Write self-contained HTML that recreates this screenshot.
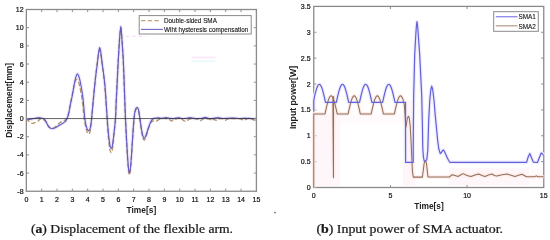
<!DOCTYPE html>
<html><head><meta charset="utf-8">
<style>
html,body{margin:0;padding:0;background:#fff;}
body{width:550px;height:240px;overflow:hidden;position:relative;}
svg{position:absolute;left:0;top:0;will-change:transform;}
.tk{font-family:"Liberation Sans",sans-serif;font-size:7px;fill:#111;stroke:#111;stroke-width:0.2px;}
.lab{font-family:"Liberation Sans",sans-serif;font-size:8.4px;font-weight:bold;fill:#222;}
.leg{font-family:"Liberation Sans",sans-serif;font-size:6.35px;fill:#111;stroke:#111;stroke-width:0.1px;}
.cap{font-family:"Liberation Serif",serif;font-size:11.5px;fill:#1a1a1a;stroke:#1a1a1a;stroke-width:0.22px;}
</style></head><body>
<svg width="550" height="240" viewBox="0 0 550 240">
<rect width="550" height="240" fill="#fff"/>
<!-- faint artifacts -->
<path d="M125.5,36.3 H146" stroke="#f8d8f3" stroke-width="1" stroke-dasharray="4 2.5"/>
<rect x="191.5" y="56.6" width="24" height="1.8" fill="#fce8f8"/>
<rect x="191.5" y="60.4" width="24" height="1.8" fill="#eafafc"/>
<circle cx="275" cy="212.6" r="0.8" fill="#555"/>

<!-- LEFT CHART -->
<g>
<path d="M26.35,118.60 C26.71,118.73 27.73,119.32 28.50,119.40 C29.27,119.48 29.92,119.28 31.00,119.10 C32.08,118.92 33.50,118.53 35.00,118.30 C36.50,118.07 38.50,117.60 40.00,117.70 C41.50,117.80 43.00,118.25 44.00,118.90 C45.00,119.55 45.33,120.48 46.00,121.60 C46.67,122.72 47.33,124.55 48.00,125.60 C48.67,126.65 49.33,127.38 50.00,127.90 C50.67,128.42 51.33,128.63 52.00,128.70 C52.67,128.77 53.33,128.53 54.00,128.30 C54.67,128.07 55.33,127.67 56.00,127.30 C56.67,126.93 57.33,126.48 58.00,126.10 C58.67,125.72 59.33,125.38 60.00,125.00 C60.67,124.62 61.33,124.23 62.00,123.80 C62.67,123.37 63.37,122.90 64.00,122.40 C64.63,121.90 65.27,121.48 65.80,120.80 C66.33,120.12 66.73,119.43 67.20,118.30 C67.67,117.17 68.07,116.30 68.60,114.00 C69.13,111.70 69.77,107.67 70.40,104.50 C71.03,101.33 71.68,98.75 72.40,95.00 C73.12,91.25 74.07,85.17 74.70,82.00 C75.33,78.83 75.75,77.37 76.20,76.00 C76.65,74.63 76.98,73.80 77.40,73.80 C77.82,73.80 78.22,74.63 78.70,76.00 C79.18,77.37 79.63,78.67 80.30,82.00 C80.97,85.33 82.12,91.83 82.70,96.00 C83.28,100.17 83.45,103.25 83.80,107.00 C84.15,110.75 84.38,115.25 84.80,118.50 C85.22,121.75 85.83,124.62 86.30,126.50 C86.77,128.38 87.20,129.12 87.60,129.80 C88.00,130.48 88.33,130.65 88.70,130.60 C89.07,130.55 89.45,130.43 89.80,129.50 C90.15,128.57 90.50,126.83 90.80,125.00 C91.10,123.17 91.17,122.83 91.60,118.50 C92.03,114.17 92.78,105.42 93.40,99.00 C94.02,92.58 94.62,86.17 95.30,80.00 C95.98,73.83 96.92,66.75 97.50,62.00 C98.08,57.25 98.43,53.90 98.80,51.50 C99.17,49.10 99.38,47.60 99.70,47.60 C100.02,47.60 100.32,49.10 100.70,51.50 C101.08,53.90 101.35,56.92 102.00,62.00 C102.65,67.08 103.93,75.67 104.60,82.00 C105.27,88.33 105.57,93.92 106.00,100.00 C106.43,106.08 106.78,112.83 107.20,118.50 C107.62,124.17 108.05,129.58 108.50,134.00 C108.95,138.42 109.45,142.58 109.90,145.00 C110.35,147.42 110.77,148.50 111.20,148.50 C111.63,148.50 112.05,147.42 112.50,145.00 C112.95,142.58 113.40,138.42 113.90,134.00 C114.40,129.58 115.10,124.17 115.50,118.50 C115.90,112.83 116.00,106.42 116.30,100.00 C116.60,93.58 116.97,86.67 117.30,80.00 C117.63,73.33 117.93,66.67 118.30,60.00 C118.67,53.33 119.17,44.92 119.50,40.00 C119.83,35.08 120.08,32.75 120.30,30.50 C120.52,28.25 120.63,26.50 120.80,26.50 C120.97,26.50 121.10,28.25 121.30,30.50 C121.50,32.75 121.67,35.08 122.00,40.00 C122.33,44.92 122.95,53.33 123.30,60.00 C123.65,66.67 123.85,73.33 124.10,80.00 C124.35,86.67 124.57,93.58 124.80,100.00 C125.03,106.42 125.20,111.83 125.50,118.50 C125.80,125.17 126.22,133.08 126.60,140.00 C126.98,146.92 127.45,155.00 127.80,160.00 C128.15,165.00 128.43,167.83 128.70,170.00 C128.97,172.17 129.15,173.00 129.40,173.00 C129.65,173.00 129.88,172.50 130.20,170.00 C130.52,167.50 130.90,163.33 131.30,158.00 C131.70,152.67 132.15,144.58 132.60,138.00 C133.05,131.42 133.57,123.08 134.00,118.50 C134.43,113.92 134.82,112.25 135.20,110.50 C135.58,108.75 135.95,108.50 136.30,108.00 C136.65,107.50 136.97,107.33 137.30,107.50 C137.63,107.67 138.00,108.08 138.30,109.00 C138.60,109.92 138.83,111.42 139.10,113.00 C139.37,114.58 139.58,116.33 139.90,118.50 C140.22,120.67 140.62,123.58 141.00,126.00 C141.38,128.42 141.83,131.20 142.20,133.00 C142.57,134.80 142.87,135.95 143.20,136.80 C143.53,137.65 143.85,138.07 144.20,138.10 C144.55,138.13 144.90,137.77 145.30,137.00 C145.70,136.23 146.15,134.83 146.60,133.50 C147.05,132.17 147.50,130.50 148.00,129.00 C148.50,127.50 149.07,125.83 149.60,124.50 C150.13,123.17 150.68,121.92 151.20,121.00 C151.72,120.08 152.15,119.45 152.70,119.00 C153.25,118.55 153.62,118.50 154.50,118.30 C155.38,118.10 156.75,117.78 158.00,117.80 C159.25,117.82 160.67,118.43 162.00,118.40 C163.33,118.37 164.67,117.62 166.00,117.60 C167.33,117.58 168.67,118.13 170.00,118.30 C171.33,118.47 172.67,118.70 174.00,118.60 C175.33,118.50 176.67,117.72 178.00,117.70 C179.33,117.68 180.67,118.40 182.00,118.50 C183.33,118.60 184.67,118.45 186.00,118.30 C187.33,118.15 188.67,117.58 190.00,117.60 C191.33,117.62 192.67,118.23 194.00,118.40 C195.33,118.57 196.67,118.62 198.00,118.60 C199.33,118.58 200.78,118.50 202.00,118.30 C203.22,118.10 204.13,117.37 205.30,117.40 C206.47,117.43 207.72,118.33 209.00,118.50 C210.28,118.67 211.50,118.57 213.00,118.40 C214.50,118.23 216.50,117.48 218.00,117.50 C219.50,117.52 220.33,118.37 222.00,118.50 C223.67,118.63 226.00,118.38 228.00,118.30 C230.00,118.22 232.00,117.97 234.00,118.00 C236.00,118.03 238.00,118.47 240.00,118.50 C242.00,118.53 244.00,118.18 246.00,118.20 C248.00,118.22 250.27,118.57 252.00,118.60 C253.73,118.63 255.67,118.43 256.40,118.40" stroke="#eeebf9" stroke-width="3.6" fill="none"/>
<path d="M26.35,118.60 C26.71,119.00 27.64,120.20 28.50,121.00 C29.36,121.80 30.42,123.13 31.50,123.40 C32.58,123.67 33.92,122.97 35.00,122.60 C36.08,122.23 37.08,121.83 38.00,121.20 C38.92,120.57 39.67,119.13 40.50,118.80 C41.33,118.47 42.08,118.70 43.00,119.20 C43.92,119.70 45.17,120.73 46.00,121.80 C46.83,122.87 47.33,124.60 48.00,125.60 C48.67,126.60 49.33,127.32 50.00,127.80 C50.67,128.28 51.33,128.50 52.00,128.50 C52.67,128.50 53.33,128.18 54.00,127.80 C54.67,127.42 55.33,126.77 56.00,126.20 C56.67,125.63 57.33,125.00 58.00,124.40 C58.67,123.80 59.33,123.10 60.00,122.60 C60.67,122.10 61.33,121.73 62.00,121.40 C62.67,121.07 63.37,120.90 64.00,120.60 C64.63,120.30 65.27,120.12 65.80,119.60 C66.33,119.08 66.73,118.60 67.20,117.50 C67.67,116.40 68.07,115.25 68.60,113.00 C69.13,110.75 69.77,107.17 70.40,104.00 C71.03,100.83 71.75,97.25 72.40,94.00 C73.05,90.75 73.77,86.75 74.30,84.50 C74.83,82.25 75.22,81.35 75.60,80.50 C75.98,79.65 76.27,79.45 76.60,79.40 C76.93,79.35 77.15,79.35 77.60,80.20 C78.05,81.05 78.60,81.70 79.30,84.50 C80.00,87.30 81.17,93.08 81.80,97.00 C82.43,100.92 82.68,104.37 83.10,108.00 C83.52,111.63 83.83,115.47 84.30,118.80 C84.77,122.13 85.38,125.67 85.90,128.00 C86.42,130.33 86.95,131.80 87.40,132.80 C87.85,133.80 88.20,134.05 88.60,134.00 C89.00,133.95 89.43,133.67 89.80,132.50 C90.17,131.33 90.50,129.17 90.80,127.00 C91.10,124.83 91.18,124.00 91.60,119.50 C92.02,115.00 92.72,106.42 93.30,100.00 C93.88,93.58 94.45,87.17 95.10,81.00 C95.75,74.83 96.63,67.58 97.20,63.00 C97.77,58.42 98.12,55.63 98.50,53.50 C98.88,51.37 99.15,50.28 99.50,50.20 C99.85,50.12 100.18,50.87 100.60,53.00 C101.02,55.13 101.35,58.00 102.00,63.00 C102.65,68.00 103.85,76.67 104.50,83.00 C105.15,89.33 105.47,94.92 105.90,101.00 C106.33,107.08 106.68,113.50 107.10,119.50 C107.52,125.50 107.95,132.08 108.40,137.00 C108.85,141.92 109.33,146.38 109.80,149.00 C110.27,151.62 110.75,152.70 111.20,152.70 C111.65,152.70 112.07,151.78 112.50,149.00 C112.93,146.22 113.32,140.92 113.80,136.00 C114.28,131.08 115.00,125.33 115.40,119.50 C115.80,113.67 115.90,107.42 116.20,101.00 C116.50,94.58 116.87,87.67 117.20,81.00 C117.53,74.33 117.83,67.67 118.20,61.00 C118.57,54.33 119.07,45.92 119.40,41.00 C119.73,36.08 119.97,33.70 120.20,31.50 C120.43,29.30 120.62,27.80 120.80,27.80 C120.98,27.80 121.10,29.30 121.30,31.50 C121.50,33.70 121.68,36.08 122.00,41.00 C122.32,45.92 122.87,54.33 123.20,61.00 C123.53,67.67 123.75,74.33 124.00,81.00 C124.25,87.67 124.47,94.58 124.70,101.00 C124.93,107.42 125.10,112.83 125.40,119.50 C125.70,126.17 126.12,134.08 126.50,141.00 C126.88,147.92 127.33,155.92 127.70,161.00 C128.07,166.08 128.42,169.20 128.70,171.50 C128.98,173.80 129.15,174.80 129.40,174.80 C129.65,174.80 129.88,174.13 130.20,171.50 C130.52,168.87 130.90,164.42 131.30,159.00 C131.70,153.58 132.15,145.58 132.60,139.00 C133.05,132.42 133.57,124.08 134.00,119.50 C134.43,114.92 134.82,113.20 135.20,111.50 C135.58,109.80 135.95,109.72 136.30,109.30 C136.65,108.88 136.97,108.80 137.30,109.00 C137.63,109.20 138.00,109.67 138.30,110.50 C138.60,111.33 138.83,112.50 139.10,114.00 C139.37,115.50 139.58,117.17 139.90,119.50 C140.22,121.83 140.62,125.42 141.00,128.00 C141.38,130.58 141.83,133.20 142.20,135.00 C142.57,136.80 142.87,137.97 143.20,138.80 C143.53,139.63 143.85,140.00 144.20,140.00 C144.55,140.00 144.90,139.63 145.30,138.80 C145.70,137.97 146.15,136.47 146.60,135.00 C147.05,133.53 147.50,131.58 148.00,130.00 C148.50,128.42 149.07,126.83 149.60,125.50 C150.13,124.17 150.63,122.75 151.20,122.00 C151.77,121.25 152.17,121.13 153.00,121.00 C153.83,120.87 155.20,121.45 156.20,121.20 C157.20,120.95 158.20,119.93 159.00,119.50 C159.80,119.07 160.00,118.78 161.00,118.60 C162.00,118.42 163.67,118.25 165.00,118.40 C166.33,118.55 167.85,119.07 169.00,119.50 C170.15,119.93 170.98,121.00 171.90,121.00 C172.82,121.00 173.65,119.92 174.50,119.50 C175.35,119.08 175.92,118.65 177.00,118.50 C178.08,118.35 179.77,118.18 181.00,118.60 C182.23,119.02 183.40,120.60 184.40,121.00 C185.40,121.40 186.15,121.33 187.00,121.00 C187.85,120.67 188.50,119.43 189.50,119.00 C190.50,118.57 191.75,118.40 193.00,118.40 C194.25,118.40 195.75,118.63 197.00,119.00 C198.25,119.37 199.50,120.60 200.50,120.60 C201.50,120.60 202.08,119.35 203.00,119.00 C203.92,118.65 205.00,118.50 206.00,118.50 C207.00,118.50 208.00,118.70 209.00,119.00 C210.00,119.30 211.17,120.27 212.00,120.30 C212.83,120.33 213.33,119.20 214.00,119.20 C214.67,119.20 215.17,120.37 216.00,120.30 C216.83,120.23 218.00,119.10 219.00,118.80 C220.00,118.50 220.95,118.25 222.00,118.50 C223.05,118.75 224.30,120.25 225.30,120.30 C226.30,120.35 226.55,119.10 228.00,118.80 C229.45,118.50 232.00,118.48 234.00,118.50 C236.00,118.52 238.33,118.62 240.00,118.90 C241.67,119.18 242.83,120.22 244.00,120.20 C245.17,120.18 245.83,119.08 247.00,118.80 C248.17,118.52 249.83,118.30 251.00,118.50 C252.17,118.70 253.10,119.75 254.00,120.00 C254.90,120.25 256.00,120.00 256.40,120.00" stroke="#b39068" stroke-width="1.3" fill="none" stroke-dasharray="4.5 2.3"/>
<path d="M26.35,118.60 C26.71,118.73 27.73,119.32 28.50,119.40 C29.27,119.48 29.92,119.28 31.00,119.10 C32.08,118.92 33.50,118.53 35.00,118.30 C36.50,118.07 38.50,117.60 40.00,117.70 C41.50,117.80 43.00,118.25 44.00,118.90 C45.00,119.55 45.33,120.48 46.00,121.60 C46.67,122.72 47.33,124.55 48.00,125.60 C48.67,126.65 49.33,127.38 50.00,127.90 C50.67,128.42 51.33,128.63 52.00,128.70 C52.67,128.77 53.33,128.53 54.00,128.30 C54.67,128.07 55.33,127.67 56.00,127.30 C56.67,126.93 57.33,126.48 58.00,126.10 C58.67,125.72 59.33,125.38 60.00,125.00 C60.67,124.62 61.33,124.23 62.00,123.80 C62.67,123.37 63.37,122.90 64.00,122.40 C64.63,121.90 65.27,121.48 65.80,120.80 C66.33,120.12 66.73,119.43 67.20,118.30 C67.67,117.17 68.07,116.30 68.60,114.00 C69.13,111.70 69.77,107.67 70.40,104.50 C71.03,101.33 71.68,98.75 72.40,95.00 C73.12,91.25 74.07,85.17 74.70,82.00 C75.33,78.83 75.75,77.37 76.20,76.00 C76.65,74.63 76.98,73.80 77.40,73.80 C77.82,73.80 78.22,74.63 78.70,76.00 C79.18,77.37 79.63,78.67 80.30,82.00 C80.97,85.33 82.12,91.83 82.70,96.00 C83.28,100.17 83.45,103.25 83.80,107.00 C84.15,110.75 84.38,115.25 84.80,118.50 C85.22,121.75 85.83,124.62 86.30,126.50 C86.77,128.38 87.20,129.12 87.60,129.80 C88.00,130.48 88.33,130.65 88.70,130.60 C89.07,130.55 89.45,130.43 89.80,129.50 C90.15,128.57 90.50,126.83 90.80,125.00 C91.10,123.17 91.17,122.83 91.60,118.50 C92.03,114.17 92.78,105.42 93.40,99.00 C94.02,92.58 94.62,86.17 95.30,80.00 C95.98,73.83 96.92,66.75 97.50,62.00 C98.08,57.25 98.43,53.90 98.80,51.50 C99.17,49.10 99.38,47.60 99.70,47.60 C100.02,47.60 100.32,49.10 100.70,51.50 C101.08,53.90 101.35,56.92 102.00,62.00 C102.65,67.08 103.93,75.67 104.60,82.00 C105.27,88.33 105.57,93.92 106.00,100.00 C106.43,106.08 106.78,112.83 107.20,118.50 C107.62,124.17 108.05,129.58 108.50,134.00 C108.95,138.42 109.45,142.58 109.90,145.00 C110.35,147.42 110.77,148.50 111.20,148.50 C111.63,148.50 112.05,147.42 112.50,145.00 C112.95,142.58 113.40,138.42 113.90,134.00 C114.40,129.58 115.10,124.17 115.50,118.50 C115.90,112.83 116.00,106.42 116.30,100.00 C116.60,93.58 116.97,86.67 117.30,80.00 C117.63,73.33 117.93,66.67 118.30,60.00 C118.67,53.33 119.17,44.92 119.50,40.00 C119.83,35.08 120.08,32.75 120.30,30.50 C120.52,28.25 120.63,26.50 120.80,26.50 C120.97,26.50 121.10,28.25 121.30,30.50 C121.50,32.75 121.67,35.08 122.00,40.00 C122.33,44.92 122.95,53.33 123.30,60.00 C123.65,66.67 123.85,73.33 124.10,80.00 C124.35,86.67 124.57,93.58 124.80,100.00 C125.03,106.42 125.20,111.83 125.50,118.50 C125.80,125.17 126.22,133.08 126.60,140.00 C126.98,146.92 127.45,155.00 127.80,160.00 C128.15,165.00 128.43,167.83 128.70,170.00 C128.97,172.17 129.15,173.00 129.40,173.00 C129.65,173.00 129.88,172.50 130.20,170.00 C130.52,167.50 130.90,163.33 131.30,158.00 C131.70,152.67 132.15,144.58 132.60,138.00 C133.05,131.42 133.57,123.08 134.00,118.50 C134.43,113.92 134.82,112.25 135.20,110.50 C135.58,108.75 135.95,108.50 136.30,108.00 C136.65,107.50 136.97,107.33 137.30,107.50 C137.63,107.67 138.00,108.08 138.30,109.00 C138.60,109.92 138.83,111.42 139.10,113.00 C139.37,114.58 139.58,116.33 139.90,118.50 C140.22,120.67 140.62,123.58 141.00,126.00 C141.38,128.42 141.83,131.20 142.20,133.00 C142.57,134.80 142.87,135.95 143.20,136.80 C143.53,137.65 143.85,138.07 144.20,138.10 C144.55,138.13 144.90,137.77 145.30,137.00 C145.70,136.23 146.15,134.83 146.60,133.50 C147.05,132.17 147.50,130.50 148.00,129.00 C148.50,127.50 149.07,125.83 149.60,124.50 C150.13,123.17 150.68,121.92 151.20,121.00 C151.72,120.08 152.15,119.45 152.70,119.00 C153.25,118.55 153.62,118.50 154.50,118.30 C155.38,118.10 156.75,117.78 158.00,117.80 C159.25,117.82 160.67,118.43 162.00,118.40 C163.33,118.37 164.67,117.62 166.00,117.60 C167.33,117.58 168.67,118.13 170.00,118.30 C171.33,118.47 172.67,118.70 174.00,118.60 C175.33,118.50 176.67,117.72 178.00,117.70 C179.33,117.68 180.67,118.40 182.00,118.50 C183.33,118.60 184.67,118.45 186.00,118.30 C187.33,118.15 188.67,117.58 190.00,117.60 C191.33,117.62 192.67,118.23 194.00,118.40 C195.33,118.57 196.67,118.62 198.00,118.60 C199.33,118.58 200.78,118.50 202.00,118.30 C203.22,118.10 204.13,117.37 205.30,117.40 C206.47,117.43 207.72,118.33 209.00,118.50 C210.28,118.67 211.50,118.57 213.00,118.40 C214.50,118.23 216.50,117.48 218.00,117.50 C219.50,117.52 220.33,118.37 222.00,118.50 C223.67,118.63 226.00,118.38 228.00,118.30 C230.00,118.22 232.00,117.97 234.00,118.00 C236.00,118.03 238.00,118.47 240.00,118.50 C242.00,118.53 244.00,118.18 246.00,118.20 C248.00,118.22 250.27,118.57 252.00,118.60 C253.73,118.63 255.67,118.43 256.40,118.40" stroke="#6459c6" stroke-width="1.15" fill="none"/>
<path d="M26.35,118.55 H256.4" stroke="#333" stroke-width="0.9" fill="none" opacity="0.85"/>
<rect x="26.35" y="9.5" width="230.05" height="181.75" fill="none" stroke="#8a8a8a" stroke-width="1.3"/>
<path d="M26.95,27.68 h2 M255.80,27.68 h-2 M26.95,45.85 h2 M255.80,45.85 h-2 M26.95,64.03 h2 M255.80,64.03 h-2 M26.95,82.20 h2 M255.80,82.20 h-2 M26.95,100.38 h2 M255.80,100.38 h-2 M26.95,118.55 h2 M255.80,118.55 h-2 M26.95,136.72 h2 M255.80,136.72 h-2 M26.95,154.90 h2 M255.80,154.90 h-2 M26.95,173.07 h2 M255.80,173.07 h-2 M41.69,190.65 v-2 M41.69,10.10 v2 M57.02,190.65 v-2 M57.02,10.10 v2 M72.36,190.65 v-2 M72.36,10.10 v2 M87.70,190.65 v-2 M87.70,10.10 v2 M103.03,190.65 v-2 M103.03,10.10 v2 M118.37,190.65 v-2 M118.37,10.10 v2 M133.71,190.65 v-2 M133.71,10.10 v2 M149.04,190.65 v-2 M149.04,10.10 v2 M164.38,190.65 v-2 M164.38,10.10 v2 M179.72,190.65 v-2 M179.72,10.10 v2 M195.05,190.65 v-2 M195.05,10.10 v2 M210.39,190.65 v-2 M210.39,10.10 v2 M225.73,190.65 v-2 M225.73,10.10 v2 M241.06,190.65 v-2 M241.06,10.10 v2" stroke="#8a8a8a" stroke-width="1" fill="none"/>
<text x="23.6" y="12.00" text-anchor="end" class="tk">12</text>
<text x="23.6" y="30.18" text-anchor="end" class="tk">10</text>
<text x="23.6" y="48.35" text-anchor="end" class="tk">8</text>
<text x="23.6" y="66.53" text-anchor="end" class="tk">6</text>
<text x="23.6" y="84.70" text-anchor="end" class="tk">4</text>
<text x="23.6" y="102.88" text-anchor="end" class="tk">2</text>
<text x="23.6" y="121.05" text-anchor="end" class="tk">0</text>
<text x="23.6" y="139.22" text-anchor="end" class="tk">-2</text>
<text x="23.6" y="157.40" text-anchor="end" class="tk">-4</text>
<text x="23.6" y="175.57" text-anchor="end" class="tk">-6</text>
<text x="23.6" y="193.75" text-anchor="end" class="tk">-8</text>
<text x="26.35" y="201.5" text-anchor="middle" class="tk">0</text>
<text x="41.69" y="201.5" text-anchor="middle" class="tk">1</text>
<text x="57.02" y="201.5" text-anchor="middle" class="tk">2</text>
<text x="72.36" y="201.5" text-anchor="middle" class="tk">3</text>
<text x="87.70" y="201.5" text-anchor="middle" class="tk">4</text>
<text x="103.03" y="201.5" text-anchor="middle" class="tk">5</text>
<text x="118.37" y="201.5" text-anchor="middle" class="tk">6</text>
<text x="133.71" y="201.5" text-anchor="middle" class="tk">7</text>
<text x="149.04" y="201.5" text-anchor="middle" class="tk">8</text>
<text x="164.38" y="201.5" text-anchor="middle" class="tk">9</text>
<text x="179.72" y="201.5" text-anchor="middle" class="tk">10</text>
<text x="195.05" y="201.5" text-anchor="middle" class="tk">11</text>
<text x="210.39" y="201.5" text-anchor="middle" class="tk">12</text>
<text x="225.73" y="201.5" text-anchor="middle" class="tk">13</text>
<text x="241.06" y="201.5" text-anchor="middle" class="tk">14</text>
<text x="256.40" y="201.5" text-anchor="middle" class="tk">15</text>
<text class="lab" x="141.4" y="212.8" text-anchor="middle">Time[s]</text>
<text class="lab" transform="translate(11.7,100.4) rotate(-90)" text-anchor="middle">Displacement[mm]</text>
<!-- legend -->
<rect x="139.2" y="15.6" width="112" height="18.4" fill="#fff" stroke="#8a8a8a" stroke-width="1"/>
<path d="M141,20.6 H159.5" stroke="#c0a57a" stroke-width="1.1" stroke-dasharray="4.4 2.3"/>
<path d="M141,29.4 H163" stroke="#6e68d0" stroke-width="1.1"/>
<text class="leg" x="164" y="23.4">Double-sided SMA</text>
<text class="leg" x="164" y="32.2">Wiht hysteresis compensation</text>
</g>

<!-- RIGHT CHART -->
<g>
<!-- faint chroma haze around red lines (jpeg-like) -->
<rect x="314.5" y="114.5" width="26" height="72" fill="#fef6f8"/>
<rect x="340" y="114.5" width="64" height="9" fill="#fffafb"/>
<rect x="403" y="100" width="12" height="86" fill="#fef6f8"/>
<rect x="449" y="168" width="80" height="17" fill="#fef6f8"/>
<rect x="529" y="168" width="14" height="17" fill="#fffafb"/>
<rect x="313.75" y="6.4" width="230.00" height="181.10" fill="none" stroke="#8a8a8a" stroke-width="1.3"/>
<path d="M314.35,161.63 h2 M543.15,161.63 h-2 M314.35,135.76 h2 M543.15,135.76 h-2 M314.35,109.89 h2 M543.15,109.89 h-2 M314.35,84.01 h2 M543.15,84.01 h-2 M314.35,58.14 h2 M543.15,58.14 h-2 M314.35,32.27 h2 M543.15,32.27 h-2 M390.42,186.90 v-2 M390.42,7.00 v2 M467.08,186.90 v-2 M467.08,7.00 v2" stroke="#8a8a8a" stroke-width="1" fill="none"/>
<path d="M313.75,187.60 L313.75,113.90 L325.00,113.90 L325.87,109.87 L326.74,106.05 L327.61,102.61 L328.49,99.75 L329.36,97.59 L330.23,96.25 L331.10,95.80 L331.97,96.25 L332.84,97.59 L333.45,177.60 L333.55,96.60 L333.71,99.75 L334.59,102.61 L335.46,106.05 L336.33,109.87 L337.20,113.90 L348.10,113.90 L348.97,109.87 L349.84,106.05 L350.71,102.61 L351.59,99.75 L352.46,97.59 L353.33,96.25 L354.20,95.80 L355.07,96.25 L355.94,97.59 L356.81,99.75 L357.69,102.61 L358.56,106.05 L359.43,109.87 L360.30,113.90 L371.20,113.90 L372.07,109.87 L372.94,106.05 L373.81,102.61 L374.69,99.75 L375.56,97.59 L376.43,96.25 L377.30,95.80 L378.17,96.25 L379.04,97.59 L379.91,99.75 L380.79,102.61 L381.66,106.05 L382.53,109.87 L383.40,113.90 L394.40,113.90 L395.27,109.87 L396.14,106.05 L397.01,102.61 L397.89,99.75 L398.76,97.59 L399.63,96.25 L400.50,95.80 L401.37,96.25 L402.24,97.59 L403.11,99.75 L404.30,105.00 L405.00,114.00 L405.50,123.00 L406.00,127.00 L406.60,123.00 L407.30,118.50 L408.30,116.20 L409.30,118.00 L410.20,126.00 L411.00,140.00 L411.80,158.00 L412.50,172.00 L413.30,177.10 L422.40,177.10 L423.20,171.00 L424.20,163.00 L425.30,160.80 L426.40,163.00 L427.30,171.00 L428.00,177.00 L449.40,177.00 L451.90,174.80 L455.00,175.60 L458.00,176.50 L460.50,175.00 L463.00,173.60 L467.00,175.50 L471.00,176.50 L475.00,175.00 L478.70,174.00 L482.00,175.50 L485.00,176.50 L488.50,175.00 L491.90,174.00 L494.50,175.50 L496.80,176.10 L501.00,175.00 L506.80,174.10 L511.00,175.30 L515.00,176.60 L518.50,175.30 L521.80,174.20 L524.30,175.50 L526.40,176.80 L534.50,176.80 L536.40,175.90 L538.00,176.80 L543.60,176.80" stroke="#fbeceb" stroke-width="3.6" fill="none" stroke-linejoin="round"/>
<path d="M313.75,110.00 L313.75,101.50 L314.22,97.72 L315.25,93.35 L316.27,89.60 L317.30,86.72 L318.32,84.92 L319.35,84.30 L320.38,84.92 L321.40,86.72 L322.43,89.60 L323.45,93.35 L324.48,97.72 L325.50,102.40 L336.30,102.40 L337.19,98.37 L338.07,94.55 L338.96,91.11 L339.84,88.25 L340.73,86.09 L341.61,84.75 L342.50,84.30 L343.39,84.75 L344.27,86.09 L345.16,88.25 L346.04,91.11 L346.93,94.55 L347.81,98.37 L348.70,102.40 L359.50,102.40 L360.39,98.37 L361.27,94.55 L362.16,91.11 L363.04,88.25 L363.93,86.09 L364.81,84.75 L365.70,84.30 L366.59,84.75 L367.47,86.09 L368.36,88.25 L369.24,91.11 L370.13,94.55 L371.01,98.37 L371.90,102.40 L382.60,102.40 L383.49,98.37 L384.37,94.55 L385.26,91.11 L386.14,88.25 L387.03,86.09 L387.91,84.75 L388.80,84.30 L389.69,84.75 L390.57,86.09 L391.46,88.25 L392.34,91.11 L393.23,94.55 L394.11,98.37 L395.00,102.40 L405.50,102.40 L405.60,162.40 L413.20,162.40 L413.20,150.00 L413.30,135.00 L413.70,95.00 L414.70,55.00 L415.80,35.00 L416.40,26.00 L417.00,21.70 L417.60,26.00 L418.30,35.00 L419.70,55.00 L421.70,95.00 L422.40,125.00 L422.80,148.00 L423.40,157.00 L424.20,160.80 L425.00,161.40 L425.80,160.80 L426.80,159.50 L427.80,150.00 L428.70,120.00 L429.80,100.00 L430.80,90.00 L431.70,86.20 L432.60,89.00 L434.00,100.00 L435.20,115.00 L436.20,125.00 L437.60,140.00 L438.80,149.00 L440.30,153.60 L441.40,152.50 L442.50,150.60 L443.50,150.00 L444.60,151.80 L446.00,155.00 L447.60,158.50 L449.00,161.00 L450.00,162.40 L526.60,162.40 L528.00,157.50 L529.80,153.50 L531.40,157.50 L533.40,162.20 L537.60,162.30 L539.40,157.50 L541.20,153.00 L542.30,153.60 L543.60,155.50" stroke="#eeecfb" stroke-width="3.6" fill="none" stroke-linejoin="round"/>
<path d="M313.75,187.60 L313.75,113.90 L325.00,113.90 L325.87,109.87 L326.74,106.05 L327.61,102.61 L328.49,99.75 L329.36,97.59 L330.23,96.25 L331.10,95.80 L331.97,96.25 L332.84,97.59 L333.45,177.60 L333.55,96.60 L333.71,99.75 L334.59,102.61 L335.46,106.05 L336.33,109.87 L337.20,113.90 L348.10,113.90 L348.97,109.87 L349.84,106.05 L350.71,102.61 L351.59,99.75 L352.46,97.59 L353.33,96.25 L354.20,95.80 L355.07,96.25 L355.94,97.59 L356.81,99.75 L357.69,102.61 L358.56,106.05 L359.43,109.87 L360.30,113.90 L371.20,113.90 L372.07,109.87 L372.94,106.05 L373.81,102.61 L374.69,99.75 L375.56,97.59 L376.43,96.25 L377.30,95.80 L378.17,96.25 L379.04,97.59 L379.91,99.75 L380.79,102.61 L381.66,106.05 L382.53,109.87 L383.40,113.90 L394.40,113.90 L395.27,109.87 L396.14,106.05 L397.01,102.61 L397.89,99.75 L398.76,97.59 L399.63,96.25 L400.50,95.80 L401.37,96.25 L402.24,97.59 L403.11,99.75 L404.30,105.00 L405.00,114.00 L405.50,123.00 L406.00,127.00 L406.60,123.00 L407.30,118.50 L408.30,116.20 L409.30,118.00 L410.20,126.00 L411.00,140.00 L411.80,158.00 L412.50,172.00 L413.30,177.10 L422.40,177.10 L423.20,171.00 L424.20,163.00 L425.30,160.80 L426.40,163.00 L427.30,171.00 L428.00,177.00 L449.40,177.00 L451.90,174.80 L455.00,175.60 L458.00,176.50 L460.50,175.00 L463.00,173.60 L467.00,175.50 L471.00,176.50 L475.00,175.00 L478.70,174.00 L482.00,175.50 L485.00,176.50 L488.50,175.00 L491.90,174.00 L494.50,175.50 L496.80,176.10 L501.00,175.00 L506.80,174.10 L511.00,175.30 L515.00,176.60 L518.50,175.30 L521.80,174.20 L524.30,175.50 L526.40,176.80 L534.50,176.80 L536.40,175.90 L538.00,176.80 L543.60,176.80" stroke="#946e55" stroke-width="1.05" fill="none" stroke-linejoin="round"/>
<path d="M313.75,110.00 L313.75,101.50 L314.22,97.72 L315.25,93.35 L316.27,89.60 L317.30,86.72 L318.32,84.92 L319.35,84.30 L320.38,84.92 L321.40,86.72 L322.43,89.60 L323.45,93.35 L324.48,97.72 L325.50,102.40 L336.30,102.40 L337.19,98.37 L338.07,94.55 L338.96,91.11 L339.84,88.25 L340.73,86.09 L341.61,84.75 L342.50,84.30 L343.39,84.75 L344.27,86.09 L345.16,88.25 L346.04,91.11 L346.93,94.55 L347.81,98.37 L348.70,102.40 L359.50,102.40 L360.39,98.37 L361.27,94.55 L362.16,91.11 L363.04,88.25 L363.93,86.09 L364.81,84.75 L365.70,84.30 L366.59,84.75 L367.47,86.09 L368.36,88.25 L369.24,91.11 L370.13,94.55 L371.01,98.37 L371.90,102.40 L382.60,102.40 L383.49,98.37 L384.37,94.55 L385.26,91.11 L386.14,88.25 L387.03,86.09 L387.91,84.75 L388.80,84.30 L389.69,84.75 L390.57,86.09 L391.46,88.25 L392.34,91.11 L393.23,94.55 L394.11,98.37 L395.00,102.40 L405.50,102.40 L405.60,162.40 L413.20,162.40 L413.20,150.00 L413.30,135.00 L413.70,95.00 L414.70,55.00 L415.80,35.00 L416.40,26.00 L417.00,21.70 L417.60,26.00 L418.30,35.00 L419.70,55.00 L421.70,95.00 L422.40,125.00 L422.80,148.00 L423.40,157.00 L424.20,160.80 L425.00,161.40 L425.80,160.80 L426.80,159.50 L427.80,150.00 L428.70,120.00 L429.80,100.00 L430.80,90.00 L431.70,86.20 L432.60,89.00 L434.00,100.00 L435.20,115.00 L436.20,125.00 L437.60,140.00 L438.80,149.00 L440.30,153.60 L441.40,152.50 L442.50,150.60 L443.50,150.00 L444.60,151.80 L446.00,155.00 L447.60,158.50 L449.00,161.00 L450.00,162.40 L526.60,162.40 L528.00,157.50 L529.80,153.50 L531.40,157.50 L533.40,162.20 L537.60,162.30 L539.40,157.50 L541.20,153.00 L542.30,153.60 L543.60,155.50" stroke="#6260da" stroke-width="1.2" fill="none" stroke-linejoin="round"/>
<text x="310.6" y="190.00" text-anchor="end" class="tk">0</text>
<text x="310.6" y="164.13" text-anchor="end" class="tk">0.5</text>
<text x="310.6" y="138.26" text-anchor="end" class="tk">1</text>
<text x="310.6" y="112.39" text-anchor="end" class="tk">1.5</text>
<text x="310.6" y="86.51" text-anchor="end" class="tk">2</text>
<text x="310.6" y="60.64" text-anchor="end" class="tk">2.5</text>
<text x="310.6" y="34.77" text-anchor="end" class="tk">3</text>
<text x="310.6" y="8.90" text-anchor="end" class="tk">3.5</text>
<text x="313.75" y="198.2" text-anchor="middle" class="tk">0</text>
<text x="390.42" y="198.2" text-anchor="middle" class="tk">5</text>
<text x="467.08" y="198.2" text-anchor="middle" class="tk">10</text>
<text x="543.75" y="198.2" text-anchor="middle" class="tk">15</text>
<text class="lab" x="429" y="208.6" text-anchor="middle">Time[s]</text>
<text class="lab" transform="translate(296.4,97.5) rotate(-90)" text-anchor="middle" style="font-size:8.7px">Input power[W]</text>
<rect x="493.7" y="11.7" width="44.6" height="19.6" fill="#fff" stroke="#8a8a8a" stroke-width="1"/>
<path d="M495.8,16.7 H517.5" stroke="#8e88e6" stroke-width="1.3"/>
<path d="M495.8,25.8 H517.5" stroke="#bc9c90" stroke-width="1.3"/>
<text class="leg" x="518.6" y="19.4">SMA1</text>
<text class="leg" x="518.6" y="28.5">SMA2</text>
</g>

<!-- captions -->
<text class="cap" x="31.0" y="233.4" textLength="202" lengthAdjust="spacingAndGlyphs">(<tspan font-weight="bold">a</tspan>) Displacement of the flexible arm.</text>
<text class="cap" x="316.4" y="233.4" textLength="186.6" lengthAdjust="spacingAndGlyphs">(<tspan font-weight="bold">b</tspan>) Input power of SMA actuator.</text>
</svg>
</body></html>
